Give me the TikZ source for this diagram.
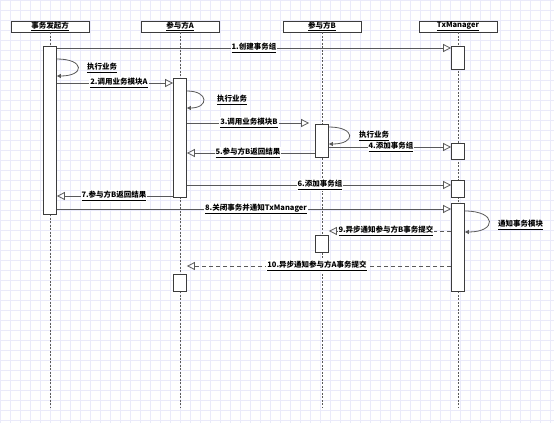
\documentclass[tikz,border=0pt]{standalone}
\usepackage{fontspec}
\setmainfont{Noto Sans CJK SC}
\usetikzlibrary{arrows.meta}
\definecolor{gridc}{RGB}{234,234,250}
\definecolor{linec}{RGB}{90,90,90}
\definecolor{boxc}{RGB}{60,60,60}
\tikzset{
  head/.style={draw=boxc, line width=0.9pt, fill=white, minimum width=78pt, minimum height=11pt, inner sep=0pt,
    font=\fontsize{7.5}{8}\selectfont\bfseries},
  act/.style={draw=boxc, line width=0.8pt, fill=white, minimum width=13pt, inner sep=0pt},
  life/.style={draw=linec, line width=0.8pt, dash pattern=on 2pt off 1.5pt},
  msg/.style={draw=linec, line width=0.8pt, -{Triangle[open, length=8pt, width=8pt]}},
  amsg/.style={msg, dash pattern=on 4pt off 3pt},
  selfmsg/.style={draw=linec, line width=0.8pt, -{Triangle[length=4pt, width=4pt]}},
  lbl/.style={fill=white, inner sep=1pt, font=\fontsize{7.5}{8}\selectfont\bfseries},
  slbl/.style={inner sep=1pt, anchor=west, font=\fontsize{7.5}{8}\selectfont\bfseries},
}
\begin{document}
\begin{tikzpicture}[x=1pt, y=-1pt]
\useasboundingbox (0,0) rectangle (554,423);
\fill[white] (0,0) rectangle (554,423);
\foreach \i in {0,10,...,550} \draw[gridc, line width=0.5pt] (\i,0) -- (\i,423);
\foreach \j in {0,10,...,420} \draw[gridc, line width=0.5pt] (0,\j) -- (554,\j);

% headers
\node[head] (hI) at (50,26.5) {\underline{事务发起方}};
\node[head] (hA) at (180,26.5) {\underline{参与方A}};
\node[head] (hB) at (322,26.5) {\underline{参与方B}};
\node[head] (hT) at (458,26.5) {\underline{TxManager}};

% lifeline ends
\coordinate (eI) at (50,408);
\coordinate (eA) at (180,408);
\coordinate (eB) at (322,408);
\coordinate (eT) at (458,408);
\draw[life] (hI.south) -- (eI);
\draw[life] (hA.south) -- (eA);
\draw[life] (hB.south) -- (eB);
\draw[life] (hT.south) -- (eT);

% activations
\node[act, minimum height=168pt] (i1) at (50,130) {};
\node[act, minimum height=119pt] (a1) at (180,137.5) {};
\node[act, minimum height=33pt] (b1) at (322,140.5) {};
\node[act, minimum height=23pt] (t1) at (458,57.5) {};
\node[act, minimum height=16pt] (t2) at (458,151) {};
\node[act, minimum height=17pt] (t3) at (458,188.5) {};
\node[act, minimum height=88pt] (t4) at (458,247) {};
\node[act, minimum height=17pt] (b2) at (322,243.5) {};
\node[act, minimum height=17pt] (a2) at (180,282.5) {};

% 1
\draw[msg] (i1.east |- 0,48) -- (t1.west |- 0,48);
\node[lbl] (l1) at (254,48) {\underline{1.创建事务组}};
% self I
\draw[selfmsg] (i1.east |- 0,59) .. controls (85,59) and (85,76) .. (i1.east |- 0,76);
\node[slbl] (s1) at (86,68) {\underline{执行业务}};
% 2
\draw[msg] (i1.east |- 0,83) -- (a1.west |- 0,83);
\node[lbl] (l2) at (119,83) {\underline{2.调用业务模块A}};
% self A
\draw[selfmsg] (a1.east |- 0,91) .. controls (209,91) and (209,108) .. (a1.east |- 0,108);
\node[slbl] (s2) at (216,100) {\underline{执行业务}};
% 3
\draw[msg, shorten >=6pt] (a1.east |- 0,123) -- (b1.west |- 0,123);
\node[lbl] (l3) at (249,123) {\underline{3.调用业务模块B}};
% self B
\draw[selfmsg] (b1.east |- 0,127) .. controls (356,127) and (356,144) .. (b1.east |- 0,144);
\node[slbl] (s3) at (358,136) {\underline{执行业务}};
% 4
\draw[msg] (b1.east |- 0,147) -- (t2.west |- 0,147);
\node[lbl] (l4) at (391,147) {\underline{4.添加事务组}};
% 5
\draw[msg] (b1.west |- 0,153) -- (a1.east |- 0,153);
\node[lbl] (l5) at (248,153) {\underline{5.参与方B返回结果}};
% 6
\draw[msg] (a1.east |- 0,185) -- (t3.west |- 0,185);
\node[lbl] (l6) at (320,185) {\underline{6.添加事务组}};
% 7
\draw[msg] (a1.west |- 0,196) -- (i1.east |- 0,196);
\node[lbl] (l7) at (114,196) {\underline{7.参与方B返回结果}};
% 8
\draw[msg] (i1.east |- 0,209) -- (t4.west |- 0,209);
\node[lbl] (l8) at (256,209) {\underline{8.关闭事务并通知TxManager}};
% self T
\draw[selfmsg] (t4.east |- 0,211) .. controls (497,211) and (497,232) .. (t4.east |- 0,232);
\node[slbl] (s4) at (497,225) {\underline{通知事务模块}};
% 9
\draw[amsg] (t4.west |- 0,231) -- (b2.east |- 0,231);
\node[lbl] (l9) at (386,231) {\underline{9.异步通知参与方B事务提交}};
% 10
\draw[amsg] (t4.west |- 0,266) -- (a2.east |- 0,266);
\node[lbl] (l10) at (317,266) {\underline{10.异步通知参与方A事务提交}};
\end{tikzpicture}
\end{document}
